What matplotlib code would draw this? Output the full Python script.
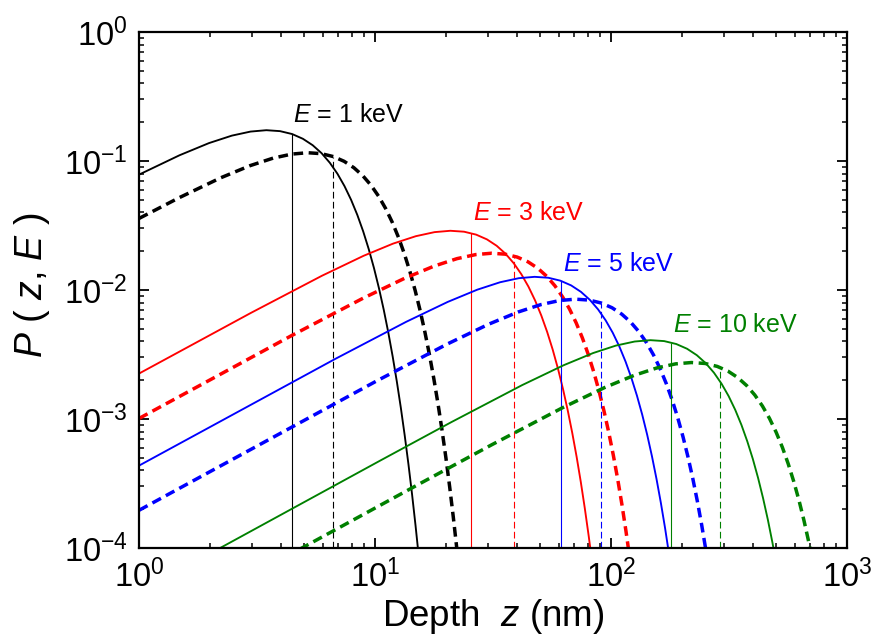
import matplotlib
matplotlib.use("Agg")
import matplotlib.pyplot as plt

plt.rcParams['font.family'] = ['Liberation Sans', 'DejaVu Sans']
plt.rcParams['mathtext.fontset'] = 'custom'
plt.rcParams['mathtext.rm'] = 'Liberation Sans'
plt.rcParams['mathtext.it'] = 'Liberation Sans:italic'
plt.rcParams['mathtext.bf'] = 'Liberation Sans:bold'

# ---------------- data ----------------
energies = ["1", "3", "5", "10"]

# E = 1 keV
z_1_solid = [1.0, 1.485, 1.98, 2.475, 2.97, 3.465, 3.96, 4.455, 4.95, 5.445, 5.94, 6.435, 6.93,
             7.425, 7.92, 8.415, 8.91, 9.405, 9.9, 10.395, 10.89, 11.385, 11.88, 12.375, 12.87,
             13.365, 13.86, 14.355, 14.85, 15.345, 15.84]
P_1_solid = [0.0784, 0.1108, 0.1377, 0.1573, 0.1691, 0.1733, 0.1704, 0.1618, 0.1486, 0.1325,
             0.1149, 0.0969, 0.0797, 0.0639, 0.0500, 0.0382, 0.0285, 0.02077, 0.0148, 0.01031,
             0.00703, 0.004685, 0.003056, 0.00195, 0.001218, 0.000744, 0.000445, 0.000261,
             0.0001496, 0.000084, 0.0000462]
z_1_dash = [1.0, 1.48, 2.22, 2.96, 3.70, 4.44, 5.18, 5.92, 6.66, 7.40, 8.14, 8.88, 9.62, 10.36,
            11.10, 11.84, 12.58, 13.32, 14.06, 14.80, 15.54, 16.28, 17.02, 17.76, 18.50, 19.24,
            19.98, 20.72, 21.46, 22.20, 22.94]
P_1_dash = [0.03586, 0.05194, 0.0741, 0.09212, 0.10524, 0.11314, 0.1159, 0.11401, 0.10821,
            0.09943, 0.08865, 0.07684, 0.06483, 0.0533, 0.04273, 0.03343, 0.02554, 0.01905,
            0.01389, 0.0099, 0.0069, 0.0047, 0.003134, 0.002044, 0.001304, 0.000815, 0.000498,
            0.000298, 0.0001745, 0.0001001, 0.0000562]

# E = 3 keV
z_3_solid = [1.0, 2.98, 5.96, 8.94, 11.92, 14.9, 17.88, 20.86, 23.84, 26.82, 29.8, 32.78, 35.76,
             38.74, 41.72, 44.7, 47.68, 50.66, 53.64, 56.62, 59.6, 62.58, 65.56, 68.54, 71.52,
             74.5, 77.48, 80.46, 83.44]
P_3_solid = [0.00225, 0.006645, 0.012897, 0.018401, 0.022876, 0.026134, 0.028095, 0.028781,
             0.028311, 0.02687, 0.02469, 0.022015, 0.019082, 0.016099, 0.013235, 0.010611,
             0.008301, 0.006341, 0.004731, 0.00345, 0.002458, 0.001713, 0.001167, 0.000778,
             0.000508, 0.000324, 0.000202, 0.0001236, 0.000074]
z_3_dash = [1.0, 4.45, 8.9, 13.35, 17.8, 22.25, 26.7, 31.15, 35.6, 40.05, 44.5, 48.95, 53.4,
            57.85, 62.3, 66.75, 71.2, 75.65, 80.1, 84.55, 89.0, 93.45, 97.9, 102.35, 106.8,
            111.25, 115.7, 120.15]
P_3_dash = [0.0010095, 0.00445, 0.008636, 0.012323, 0.015319, 0.017501, 0.018814, 0.019274,
            0.018959, 0.017994, 0.016534, 0.014743, 0.012778, 0.010781, 0.008863, 0.007106,
            0.005559, 0.004246, 0.003168, 0.00231, 0.001646, 0.001147, 0.000782, 0.000521,
            0.00034, 0.000217, 0.0001355, 0.0000828]

# E = 5 keV
z_5_solid = [1.0, 6.78, 13.56, 20.34, 27.12, 33.9, 40.68, 47.46, 54.24, 61.02, 67.8, 74.58,
             81.36, 88.14, 94.92, 101.7, 108.48, 115.26, 122.04, 128.82, 135.6, 142.38, 149.16,
             155.94, 162.72, 169.5, 176.28]
P_5_solid = [0.000435, 0.002921, 0.005668, 0.008088, 0.010055, 0.011487, 0.012348, 0.01265,
             0.012443, 0.01181, 0.010852, 0.009676, 0.008387, 0.007076, 0.005817, 0.004664,
             0.003649, 0.002787, 0.002079, 0.001516, 0.001081, 0.000753, 0.000513, 0.000342,
             0.000223, 0.0001424, 0.0000889]
z_5_dash = [1.0, 10.1, 20.2, 30.3, 40.4, 50.5, 60.6, 70.7, 80.8, 90.9, 101.0, 111.1, 121.2,
            131.3, 141.4, 151.5, 161.6, 171.7, 181.8, 191.9, 202.0, 212.1, 222.2, 232.3, 242.4,
            252.5]
P_5_dash = [0.000196, 0.0019605, 0.003805, 0.005429, 0.00675, 0.007711, 0.008289, 0.008492,
            0.008353, 0.007928, 0.007285, 0.006495, 0.00563, 0.00475, 0.003905, 0.003131,
            0.002449, 0.001871, 0.001396, 0.001018, 0.000725, 0.000505, 0.0003445, 0.0002296,
            0.0001498, 0.0000956]

# E = 10 keV
z_10_solid = [1.0, 10.5, 21.0, 42.0, 63.0, 84.0, 105.0, 126.0, 147.0, 168.0, 189.0, 210.0,
              231.0, 252.0, 273.0, 294.0, 315.0, 336.0, 357.0, 378.0, 399.0, 420.0, 441.0,
              462.0, 483.0, 504.0]
P_10_solid = [0.00004535, 0.000475, 0.000943, 0.00183, 0.002611, 0.003246, 0.003709, 0.003987,
              0.004084, 0.004017, 0.003813, 0.003504, 0.003124, 0.002708, 0.002285, 0.001878,
              0.001506, 0.001178, 0.0009, 0.000671, 0.00049, 0.000349, 0.000243, 0.0001657,
              0.0001104, 0.000072]
z_10_dash = [1.0, 6.26, 15.65, 31.3, 62.6, 93.9, 125.2, 156.5, 187.8, 219.1, 250.4, 281.7,
             313.0, 344.3, 375.6, 406.9, 438.2, 469.5, 500.8, 532.1, 563.4, 594.7, 626.0, 657.3,
             688.6, 719.9]
P_10_dash = [0.00002041, 0.0001277, 0.0003187, 0.0006326, 0.001228, 0.001752, 0.002178,
             0.002488, 0.002675, 0.00274, 0.002695, 0.002558, 0.002351, 0.002096, 0.001817,
             0.001533, 0.00126, 0.00101, 0.00079, 0.000604, 0.00045, 0.000328, 0.000234,
             0.0001631, 0.0001112, 0.0000741]

# mean depths (vertical marker lines) and curve values there
zmean_solid = [4.46, 25.4, 61.4, 179.6]
Pmean_solid = [0.162, 0.0276, 0.0118, 0.0039]
zmean_dash = [6.64, 38.9, 90.7, 290.0]
Pmean_dash = [0.108, 0.0183, 0.0079, 0.00253]

# energy label anchor positions (data coordinates)
label_z = [4.49, 25.9, 62.4, 182.5]
label_P = [0.229, 0.0393, 0.01596, 0.00533]

solid_z = [z_1_solid, z_3_solid, z_5_solid, z_10_solid]
solid_P = [P_1_solid, P_3_solid, P_5_solid, P_10_solid]
dash_z = [z_1_dash, z_3_dash, z_5_dash, z_10_dash]
dash_P = [P_1_dash, P_3_dash, P_5_dash, P_10_dash]

ymin, ymax = 1e-4, 1.0

# ---------------- figure ----------------
fig = plt.figure(figsize=(8.71, 6.36), dpi=100)
ax = fig.add_axes([139/871, 1 - 548/636, (847-139)/871, (548-32)/636])
ax.set_xscale('log')
ax.set_yscale('log')
ax.set_xlim(1, 1000)
ax.set_ylim(ymin, ymax)

cols = ['black', '#ff0000', '#0000ff', '#008000']

for i in range(4):
    c = cols[i]
    ax.plot(solid_z[i], solid_P[i], color=c, lw=1.35)
    ax.plot(dash_z[i], dash_P[i], color=c, lw=2.5, linestyle=(0, (2.8, 1.6)))
    ax.vlines(zmean_solid[i], ymin, Pmean_solid[i], color=c, lw=0.8)
    ax.vlines(zmean_dash[i], ymin, Pmean_dash[i], color=c, lw=0.8, linestyles=(0, (6, 3)))
    ax.text(label_z[i], label_P[i], r'$E$ = ' + energies[i] + ' keV', color=c,
            fontsize=18, ha='left', va='center')

for s in ax.spines.values():
    s.set_linewidth(1.6)

ax.tick_params(which='both', direction='in', top=True, right=True)
ax.tick_params(which='major', length=7, width=1.3, labelsize=23.5, pad=8)
ax.tick_params(which='minor', length=3.8, width=1.1)

fig.text(493/871, 1 - 617/636, r'Depth  $z$ (nm)', fontsize=26.5, ha='center', va='center')
fig.text(32/871, 1 - 285/636, r'$P$ ( $z$, $E$ )', fontsize=27, ha='center', va='center',
         rotation=90)

fig.savefig('out.png', dpi=100)
